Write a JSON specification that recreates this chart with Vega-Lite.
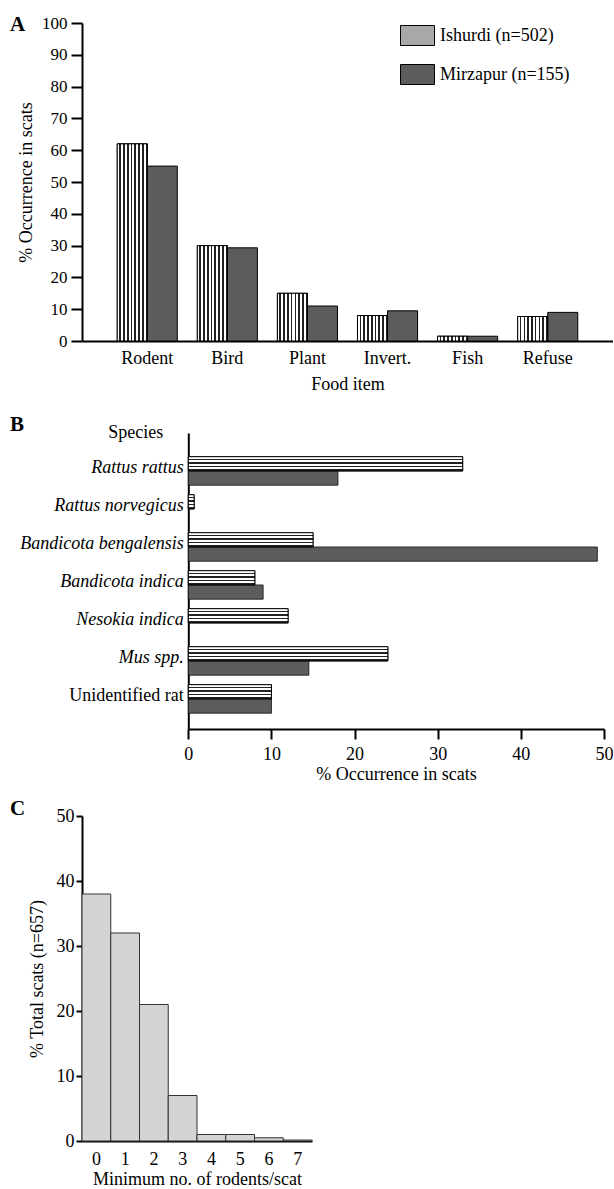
{
  "$schema": "https://vega.github.io/schema/vega-lite/v6.json",
  "padding": {"left": 10, "top": 14, "right": 0, "bottom": 0},
  "background": "white",
  "datasets": {
    "foods": [
      {"food": "Rodent", "site": "Ishurdi (n=502)", "pct": 62},
      {"food": "Rodent", "site": "Mirzapur (n=155)", "pct": 55},
      {"food": "Bird", "site": "Ishurdi (n=502)", "pct": 30},
      {"food": "Bird", "site": "Mirzapur (n=155)", "pct": 29.3},
      {"food": "Plant", "site": "Ishurdi (n=502)", "pct": 15},
      {"food": "Plant", "site": "Mirzapur (n=155)", "pct": 11},
      {"food": "Invert.", "site": "Ishurdi (n=502)", "pct": 8},
      {"food": "Invert.", "site": "Mirzapur (n=155)", "pct": 9.5},
      {"food": "Fish", "site": "Ishurdi (n=502)", "pct": 1.5},
      {"food": "Fish", "site": "Mirzapur (n=155)", "pct": 1.5},
      {"food": "Refuse", "site": "Ishurdi (n=502)", "pct": 7.7},
      {"food": "Refuse", "site": "Mirzapur (n=155)", "pct": 9}
    ],
    "species": [
      {"species": "Rattus rattus", "site": "Ishurdi (n=502)", "pct": 33},
      {"species": "Rattus rattus", "site": "Mirzapur (n=155)", "pct": 18},
      {"species": "Rattus norvegicus", "site": "Ishurdi (n=502)", "pct": 0.7},
      {"species": "Bandicota bengalensis", "site": "Ishurdi (n=502)", "pct": 15},
      {"species": "Bandicota bengalensis", "site": "Mirzapur (n=155)", "pct": 49.2},
      {"species": "Bandicota indica", "site": "Ishurdi (n=502)", "pct": 8},
      {"species": "Bandicota indica", "site": "Mirzapur (n=155)", "pct": 9},
      {"species": "Nesokia indica", "site": "Ishurdi (n=502)", "pct": 12},
      {"species": "Mus spp.", "site": "Ishurdi (n=502)", "pct": 24},
      {"species": "Mus spp.", "site": "Mirzapur (n=155)", "pct": 14.5},
      {"species": "Unidentified rat", "site": "Ishurdi (n=502)", "pct": 10},
      {"species": "Unidentified rat", "site": "Mirzapur (n=155)", "pct": 10}
    ],
    "counts": [
      {"n": "0", "pct": 38},
      {"n": "1", "pct": 32},
      {"n": "2", "pct": 21},
      {"n": "3", "pct": 7},
      {"n": "4", "pct": 1},
      {"n": "5", "pct": 1},
      {"n": "6", "pct": 0.5},
      {"n": "7", "pct": 0.15}
    ]
  },
  "spacing": 21,
  "vconcat": [
    {
      "width": 531,
      "height": 318,
      "data": {"name": "foods"},
      "title": {"text": "A", "anchor": "start", "frame": "group", "orient": "top", "dx": -72, "dy": 21, "offset": 0, "baseline": "top"},
      "encoding": {
        "x": {"field": "food", "type": "nominal", "sort": ["Rodent", "Bird", "Plant", "Invert.", "Fish", "Refuse"],
              "scale": {"paddingInner": 0.25, "paddingOuter": 0.44},
              "axis": {"title": "Food item", "labelAngle": 0, "ticks": false, "labelPadding": 8, "titlePadding": 8}},
        "xOffset": {"field": "site", "type": "nominal", "sort": ["Ishurdi (n=502)", "Mirzapur (n=155)"]},
        "y": {"field": "pct", "type": "quantitative", "scale": {"domain": [0, 100]},
              "axis": {"title": "% Occurrence in scats", "values": [0, 10, 20, 30, 40, 50, 60, 70, 80, 90, 100], "tickSize": 11, "labelPadding": 4, "labelFontSize": 17, "titlePadding": 6, "labelFlush": false, "labelOverlap": false}}
      },
      "layer": [
        {
          "mark": {"type": "bar", "stroke": "black", "strokeWidth": 1},
          "encoding": {
            "color": {"field": "site", "type": "nominal",
                      "scale": {"domain": ["Ishurdi (n=502)", "Mirzapur (n=155)"], "range": ["#a8a8a8", "#5c5c5c"]},
                      "legend": {
                        "title": null, "orient": "none", "legendX": 325, "legendY": 2, "padding": 0,
                        "symbolType": "M-1.7,-1H1.7V1H-1.7Z", "symbolSize": 400, "symbolStrokeColor": "black", "symbolStrokeWidth": 1,
                        "labelFont": "Liberation Serif", "labelFontSize": 18, "labelColor": "black", "labelOffset": 12, "rowPadding": 14
                      }}
          }
        },
        {
          "transform": [{"filter": "datum.site === 'Ishurdi (n=502)'"}],
          "mark": {"type": "bar", "stroke": "black", "strokeWidth": 1,
                   "fill": {"gradient": "linear", "x1": 0, "y1": 0, "x2": 1, "y2": 0, "stops": [
                     {"offset": 0, "color": "#ffffff"}, {"offset": 0.069, "color": "#ffffff"}, {"offset": 0.069, "color": "#222222"}, {"offset": 0.125, "color": "#222222"},
                     {"offset": 0.125, "color": "#ffffff"}, {"offset": 0.194, "color": "#ffffff"}, {"offset": 0.194, "color": "#222222"}, {"offset": 0.25, "color": "#222222"},
                     {"offset": 0.25, "color": "#ffffff"}, {"offset": 0.319, "color": "#ffffff"}, {"offset": 0.319, "color": "#222222"}, {"offset": 0.375, "color": "#222222"},
                     {"offset": 0.375, "color": "#ffffff"}, {"offset": 0.444, "color": "#ffffff"}, {"offset": 0.444, "color": "#222222"}, {"offset": 0.5, "color": "#222222"},
                     {"offset": 0.5, "color": "#ffffff"}, {"offset": 0.569, "color": "#ffffff"}, {"offset": 0.569, "color": "#222222"}, {"offset": 0.625, "color": "#222222"},
                     {"offset": 0.625, "color": "#ffffff"}, {"offset": 0.694, "color": "#ffffff"}, {"offset": 0.694, "color": "#222222"}, {"offset": 0.75, "color": "#222222"},
                     {"offset": 0.75, "color": "#ffffff"}, {"offset": 0.819, "color": "#ffffff"}, {"offset": 0.819, "color": "#222222"}, {"offset": 0.875, "color": "#222222"},
                     {"offset": 0.875, "color": "#ffffff"}, {"offset": 0.944, "color": "#ffffff"}, {"offset": 0.944, "color": "#222222"}, {"offset": 1, "color": "#222222"}
                   ]}}
        }
      ]
    },
    {
      "spacing": 15,
      "vconcat": [
        {
          "width": 522,
          "height": 296,
          "data": {"name": "species"},
          "title": {"text": "B", "anchor": "start", "frame": "group", "orient": "top", "dx": -72, "dy": 12, "offset": 0, "baseline": "top"},
          "encoding": {
            "y": {"field": "species", "type": "nominal",
                  "sort": ["Rattus rattus", "Rattus norvegicus", "Bandicota bengalensis", "Bandicota indica", "Nesokia indica", "Mus spp.", "Unidentified rat"],
                  "scale": {"paddingInner": 0.25, "paddingOuter": 0.52, "align": 0.6},
                  "axis": {"title": "Species", "titleAngle": 0, "titleX": -53, "titleY": -1, "titleAlign": "center", "titleBaseline": "middle",
                           "offset": -106.3, "ticks": false, "labelPadding": 5, "labelOffset": -3,
                           "labelFontStyle": {"condition": {"test": "datum.value === 'Unidentified rat'", "value": "normal"}, "value": "italic"}}},
            "yOffset": {"field": "site", "type": "nominal", "sort": ["Ishurdi (n=502)", "Mirzapur (n=155)"]},
            "x": {"field": "pct", "type": "quantitative", "scale": {"domain": [-12.79, 50], "nice": false, "zero": false},
                  "axis": {"title": "% Occurrence in scats", "titleX": 314, "values": [0, 10, 20, 30, 40, 50], "tickSize": 10, "labelPadding": 6, "titlePadding": 2, "labelFlush": false,
                           "domainDash": [0, 106.3, 416, 1000]}}
          },
          "layer": [
            {
              "mark": {"type": "bar", "fill": "#5c5c5c", "stroke": "#111111", "strokeWidth": 0.8}
            },
            {
              "transform": [{"filter": "datum.site === 'Ishurdi (n=502)'"}],
              "mark": {"type": "bar", "stroke": "black", "strokeWidth": 1,
                       "fill": {"gradient": "linear", "x1": 0, "y1": 0, "x2": 0, "y2": 1, "stops": [
                         {"offset": 0, "color": "#ffffff"}, {"offset": 0.14, "color": "#ffffff"}, {"offset": 0.14, "color": "#222222"}, {"offset": 0.25, "color": "#222222"},
                         {"offset": 0.25, "color": "#ffffff"}, {"offset": 0.39, "color": "#ffffff"}, {"offset": 0.39, "color": "#222222"}, {"offset": 0.5, "color": "#222222"},
                         {"offset": 0.5, "color": "#ffffff"}, {"offset": 0.64, "color": "#ffffff"}, {"offset": 0.64, "color": "#222222"}, {"offset": 0.75, "color": "#222222"},
                         {"offset": 0.75, "color": "#ffffff"}, {"offset": 0.89, "color": "#ffffff"}, {"offset": 0.89, "color": "#222222"}, {"offset": 1, "color": "#222222"}
                       ]}}
            }
          ]
        },
        {
          "width": 230,
          "height": 325,
          "data": {"name": "counts"},
          "title": {"text": "C", "anchor": "start", "frame": "group", "orient": "top", "dx": -72, "dy": 12, "offset": 0, "baseline": "top"},
          "mark": {"type": "bar", "fill": "#d4d4d4", "stroke": "#333333", "strokeWidth": 1},
          "encoding": {
            "x": {"field": "n", "type": "ordinal", "scale": {"paddingInner": 0, "paddingOuter": 0},
                  "axis": {"title": "Minimum no. of rodents/scat", "labelAngle": 0, "ticks": false, "labelPadding": 9, "titlePadding": 2}},
            "y": {"field": "pct", "type": "quantitative", "scale": {"domain": [0, 50]},
                  "axis": {"title": "% Total scats (n=657)", "values": [0, 10, 20, 30, 40, 50], "tickSize": 6, "labelPadding": 2, "titlePadding": 10, "labelFlush": false, "labelOverlap": false}}
          }
        }
      ]
    }
  ],
  "config": {
    "font": "Liberation Serif",
    "view": {"stroke": null},
    "axis": {"grid": false, "domainColor": "black", "domainWidth": 2, "tickColor": "black", "tickWidth": 2,
             "labelColor": "black", "titleColor": "black", "labelFont": "Liberation Serif", "titleFont": "Liberation Serif",
             "labelFontSize": 18, "titleFontSize": 18, "titleFontWeight": "normal"},
    "title": {"font": "Liberation Serif", "fontSize": 21, "fontWeight": "bold", "color": "black"}
  }
}
